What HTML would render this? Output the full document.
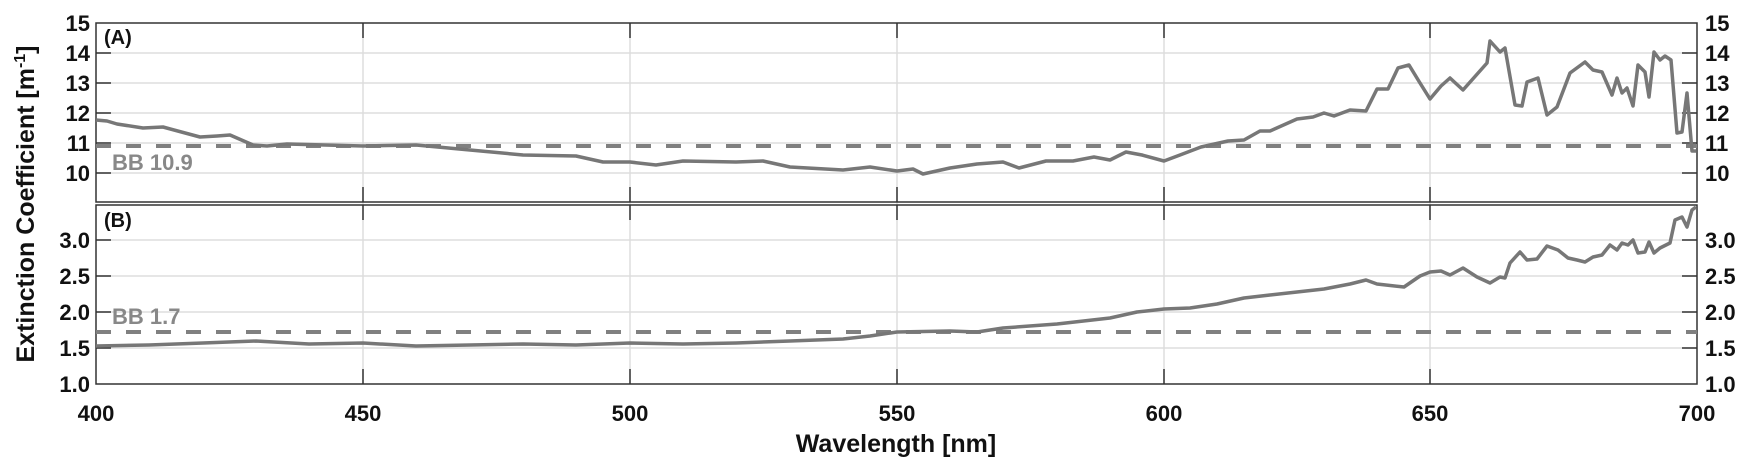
<!DOCTYPE html>
<html><head><style>body{margin:0;background:#fff}svg{display:block}text{font-family:"Liberation Sans",sans-serif;font-weight:bold;fill:#111}</style></head><body>
<svg width="1748" height="473" viewBox="0 0 1748 473" xmlns="http://www.w3.org/2000/svg">
<g stroke="#ddd" stroke-width="1.5">
<line x1="363" y1="23" x2="363" y2="384"/><line x1="630" y1="23" x2="630" y2="384"/><line x1="897" y1="23" x2="897" y2="384"/><line x1="1164" y1="23" x2="1164" y2="384"/><line x1="1430" y1="23" x2="1430" y2="384"/>
<line x1="96" y1="53" x2="1697" y2="53"/><line x1="96" y1="83" x2="1697" y2="83"/><line x1="96" y1="113" x2="1697" y2="113"/><line x1="96" y1="143" x2="1697" y2="143"/><line x1="96" y1="173" x2="1697" y2="173"/>
<line x1="96" y1="240" x2="1697" y2="240"/><line x1="96" y1="276" x2="1697" y2="276"/><line x1="96" y1="312" x2="1697" y2="312"/><line x1="96" y1="348" x2="1697" y2="348"/>
</g>
<g stroke="#333" stroke-width="1.5" fill="none">
<rect x="96" y="23" width="1601" height="179"/><rect x="96" y="205" width="1601" height="179"/>
<path d="M96 53h15M96 83h15M96 113h15M96 143h15M96 173h15M1697 53h-15M1697 83h-15M1697 113h-15M1697 143h-15M1697 173h-15M96 240h15M96 276h15M96 312h15M96 348h15M1697 240h-15M1697 276h-15M1697 312h-15M1697 348h-15M363 23v15M630 23v15M897 23v15M1164 23v15M1430 23v15M363 202v-15M630 202v-15M897 202v-15M1164 202v-15M1430 202v-15M363 205v15M630 205v15M897 205v15M1164 205v15M1430 205v15M363 384v-15M630 384v-15M897 384v-15M1164 384v-15M1430 384v-15"/>
</g>
<g stroke="#808080" stroke-width="4" stroke-dasharray="15,15">
<line x1="96" y1="146" x2="1697" y2="146"/><line x1="96" y1="332" x2="1697" y2="332"/>
</g>
<g stroke="#777" stroke-width="3.5" fill="none" stroke-linejoin="round">
<polyline points="96,120 107,121 117,124 143,128 163,127 200,137 217,136 230,135 253,145 267,146 287,144 363,146 416,145 470,150 523,155 576,156 603,162 630,162 656,165 683,161 736,162 763,161 790,167 843,170 870,167 897,171 913,169 923,174 950,168 977,164 1003,162 1019,168 1046,161 1073,161 1094,157 1110,160 1126,152 1142,155 1164,161 1180,155 1201,147 1228,141 1244,140 1260,131 1270,131 1297,119 1313,117 1324,113 1334,116 1350,110 1366,111 1377,89 1388,89 1398,68 1409,65 1420,83 1430,99 1441,86 1450,78 1463,90 1487,63 1490,41 1500,52 1505,48 1515,105 1522,106 1527,82 1538,78 1547,115 1557,107 1570,73 1585,62 1593,70 1602,72 1612,95 1617,78 1622,93 1627,88 1633,106 1638,65 1645,72 1649,97 1654,52 1660,60 1665,56 1671,60 1677,133 1682,132 1687,93 1692,151 1696,151"/>
<polyline points="96,346 149,345 203,343 256,341 309,344 363,343 416,346 470,345 523,344 576,345 630,343 683,344 736,343 790,341 843,339 870,336 897,332 950,331 977,332 1003,328 1057,324 1110,318 1137,312 1164,309 1190,308 1217,304 1244,298 1270,295 1297,292 1324,289 1350,284 1366,280 1377,284 1404,287 1420,276 1430,272 1441,271 1450,275 1463,268 1477,277 1490,283 1500,277 1505,278 1510,263 1520,252 1527,260 1537,259 1547,246 1558,250 1568,258 1577,260 1585,262 1593,257 1602,255 1610,245 1617,250 1622,243 1628,245 1633,240 1638,253 1645,252 1649,242 1654,253 1660,248 1670,243 1675,220 1682,217 1687,227 1692,210 1696,207"/>
</g>
<text x="104" y="44" font-size="20">(A)</text>
<text x="104" y="227" font-size="20">(B)</text>
<text x="112" y="170" font-size="22" style="fill:#888">BB 10.9</text>
<text x="112" y="324" font-size="22" style="fill:#888">BB 1.7</text>
<g font-size="22" text-anchor="end">
<text x="90" y="31">15</text><text x="90" y="61">14</text><text x="90" y="91">13</text><text x="90" y="121">12</text><text x="90" y="151">11</text><text x="90" y="181">10</text>
<text x="90" y="248">3.0</text><text x="90" y="284">2.5</text><text x="90" y="320">2.0</text><text x="90" y="356">1.5</text><text x="90" y="392">1.0</text>
</g>
<g font-size="22" text-anchor="start">
<text x="1705" y="31">15</text><text x="1705" y="61">14</text><text x="1705" y="91">13</text><text x="1705" y="121">12</text><text x="1705" y="151">11</text><text x="1705" y="181">10</text>
<text x="1705" y="248">3.0</text><text x="1705" y="284">2.5</text><text x="1705" y="320">2.0</text><text x="1705" y="356">1.5</text><text x="1705" y="392">1.0</text>
</g>
<g font-size="22" text-anchor="middle">
<text x="96" y="421">400</text><text x="363" y="421">450</text><text x="630" y="421">500</text><text x="897" y="421">550</text><text x="1164" y="421">600</text><text x="1430" y="421">650</text><text x="1697" y="421">700</text>
</g>
<text x="896" y="452" font-size="25" text-anchor="middle">Wavelength [nm]</text>
<text transform="translate(34,204) rotate(-90)" font-size="25" text-anchor="middle">Extinction Coefficient [m<tspan dy="-9" font-size="16">-1</tspan><tspan dy="9">]</tspan></text>
</svg>
</body></html>
